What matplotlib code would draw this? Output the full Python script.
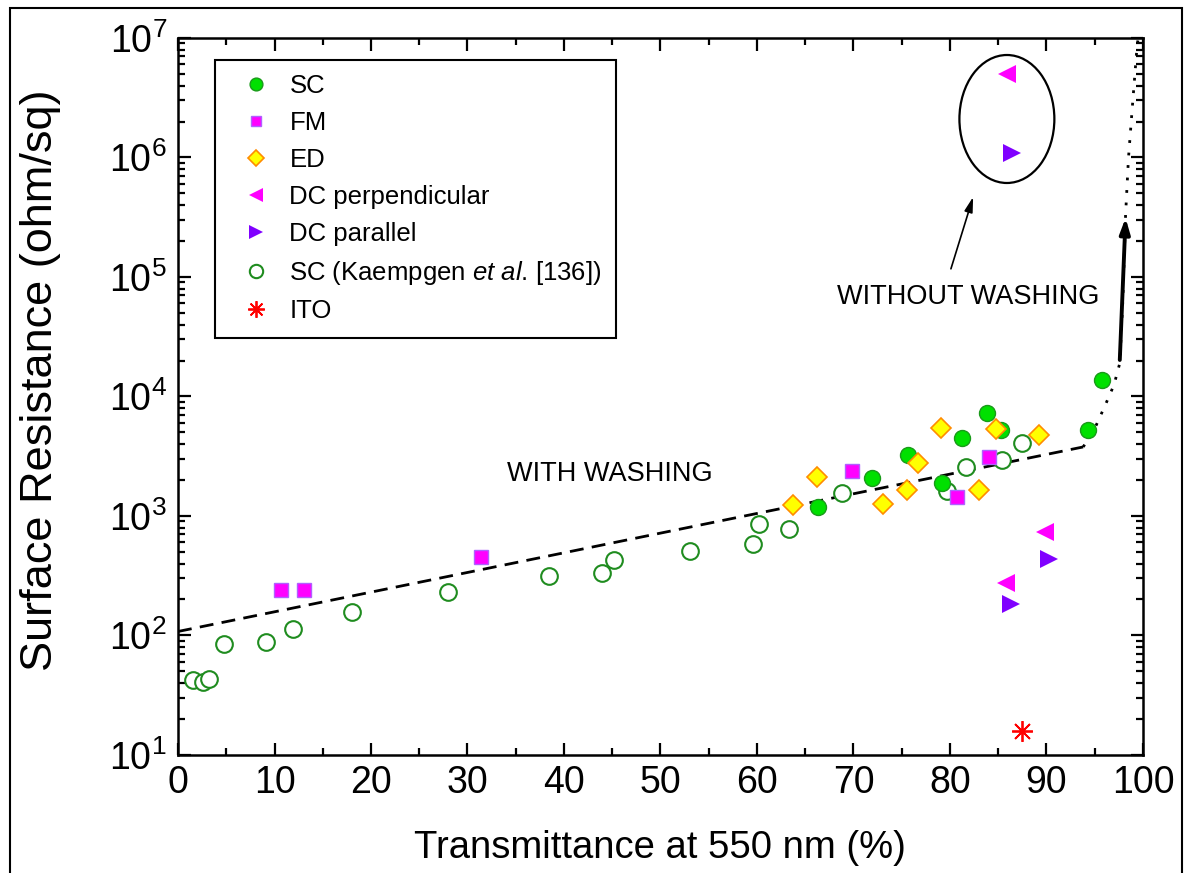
import matplotlib
matplotlib.use("Agg")
import matplotlib.pyplot as plt
from matplotlib.patches import Ellipse, Rectangle
from matplotlib.ticker import LogLocator, MultipleLocator

plt.rcParams["font.family"] = ["Liberation Sans", "DejaVu Sans"]
plt.rcParams["mathtext.fontset"] = "custom"
plt.rcParams["mathtext.rm"] = "Liberation Sans"
plt.rcParams["mathtext.it"] = "Liberation Sans:italic"

# data (transmittance %, surface resistance ohm/sq)
sc_x = [66.3, 71.9, 75.6, 79.2, 81.2, 83.8, 85.3, 94.3, 95.8]
sc_y = [1190, 2080, 3240, 1890, 4500, 7280, 5250, 5250, 13700]

fm_x = [10.7, 13.1, 31.4, 69.8, 80.7, 84.0]
fm_y = [240, 240, 454, 2380, 1443, 3120]

ed_x = [63.7, 66.2, 73.1, 75.5, 76.7, 79.1, 83.0, 84.8, 89.2]
ed_y = [1236, 2120, 1260, 1650, 2780, 5450, 1650, 5350, 4760]

dc_perp_x = [85.9, 89.8, 85.8]
dc_perp_y = [5.0e6, 735, 275]

dc_par_x = [86.4, 90.3, 86.3]
dc_par_y = [1.09e6, 437, 184]

kaem_x = [1.55, 2.6, 3.2, 4.8, 9.1, 11.9, 18.0, 28.0, 38.4, 43.9, 45.2,
          53.1, 59.6, 60.2, 63.3, 68.8, 79.7, 81.7, 85.4, 87.5]
kaem_y = [42.4, 41, 43.3, 85, 88, 113, 157, 231, 315, 333, 428,
          509, 583, 857, 778, 1555, 1620, 2570, 2940, 4070]

ito_x = [87.5]
ito_y = [15.9]

# guide lines
wash_x = [0, 93.8]
wash_y = [108, 3780]
nowash_x = [93.8, 94.8, 96.1, 97.0, 97.6, 97.9, 98.2, 98.5, 98.9, 99.4, 99.8]
nowash_y = [3780, 4960, 8490, 12500, 19000, 6.0e4, 3.3e5, 9.9e5, 2.65e6, 8.7e6, 1.4e7]

fig = plt.figure(figsize=(11.86, 8.73), dpi=100)
ax = fig.add_axes([0.1501, 0.1352, 0.8136, 0.8213])

ax.plot(wash_x, wash_y, color="black", lw=2, ls=(0, (5, 3)), zorder=2)
ax.plot(nowash_x, nowash_y, color="black", lw=2, ls=(0, (1, 3.5)), zorder=2)

kaem_label = r"SC (Kaempgen $\mathit{et\ al}$. [136])"
ax.plot(kaem_x, kaem_y, "o", ms=12, mfc="white", mec="#1f8c1f", mew=1.5,
        ls="none", label=kaem_label, zorder=3)
ax.plot(sc_x, sc_y, "o", ms=11.5, mfc="#00e000", mec="#1a9a1a", mew=1,
        ls="none", label="SC", zorder=4)
ax.plot(fm_x, fm_y, "s", ms=9.5, mfc="#ff00ff", mec="#b060ff", mew=1,
        ls="none", label="FM", zorder=4)
ax.plot(ed_x, ed_y, "D", ms=10, mfc="#ffff00", mec="#ff8c00", mew=1.2,
        ls="none", label="ED", zorder=4)
ax.plot(dc_perp_x, dc_perp_y, "<", ms=13, color="#ff00ff", mew=0,
        ls="none", label="DC perpendicular", zorder=4)
ax.plot(dc_par_x, dc_par_y, ">", ms=13, color="#8000ff", mew=0,
        ls="none", label="DC parallel", zorder=4)
ax.plot(ito_x, ito_y, marker=(8, 2, 0), ms=15, mec="#ff0000", mew=1.3,
        ls="none", label="ITO", zorder=4)

ax.set_yscale("log")
ax.set_xlim(0, 100)
ax.set_ylim(10, 1e7)
ax.xaxis.set_major_locator(MultipleLocator(10))
ax.xaxis.set_minor_locator(MultipleLocator(5))
ax.yaxis.set_major_locator(LogLocator(base=10, numticks=10))
ax.yaxis.set_minor_locator(LogLocator(base=10, subs=range(2, 10), numticks=100))

ax.tick_params(which="both", direction="in", top=True, right=True, width=1.6)
ax.tick_params(which="major", length=9)
ax.tick_params(which="minor", length=5)
ax.tick_params(axis="x", labelsize=27, pad=7)
ax.tick_params(axis="y", labelsize=27, pad=8)
for s in ax.spines.values():
    s.set_linewidth(1.8)

ax.text(-0.143, 0.523, "Surface Resistance (ohm/sq)", transform=ax.transAxes,
        rotation=90, ha="center", va="center", fontsize=32.5)
ax.text(0.4995, -0.13, "Transmittance at 550 nm (%)", transform=ax.transAxes,
        ha="center", va="center", fontsize=27.5)

# annotations
ax.text(44.7, 2245, "WITH WASHING", ha="center", va="center", fontsize=19.5)
ax.text(81.9, 6.8e4, "WITHOUT WASHING", ha="center", va="center", fontsize=19.5)
ax.annotate("", xy=(82.4, 4.67e5), xytext=(80.1, 1.17e5),
            arrowprops=dict(arrowstyle="-|>,head_length=0.9,head_width=0.25",
                            color="black", lw=1.2, shrinkA=0, shrinkB=0))
ax.annotate("", xy=(98.2, 3.12e5), xytext=(97.6, 2.02e4),
            arrowprops=dict(arrowstyle="-|>,head_length=0.9,head_width=0.3",
                            color="black", lw=2.8, shrinkA=0, shrinkB=0))
ax.add_patch(Ellipse((0.859, 0.887), 0.0984, 0.1785, transform=ax.transAxes,
                     fill=False, ec="black", lw=1.6, zorder=5))

handles, labels = ax.get_legend_handles_labels()
order = ["SC", "FM", "ED", "DC perpendicular", "DC parallel", kaem_label, "ITO"]
hmap = dict(zip(labels, handles))
leg = ax.legend([hmap[k] for k in order], order, loc="upper left",
                bbox_to_anchor=(0.0383, 0.969), borderaxespad=0, fontsize=18.5,
                frameon=True, fancybox=False, edgecolor="black", framealpha=1,
                markerscale=0.8, handlelength=2.1, handletextpad=0.25,
                labelspacing=0.5, borderpad=0.55)
leg.get_frame().set_linewidth(1.5)

# outer frame of the figure
fig.add_artist(Rectangle((10 / 1186, -0.05), 1172 / 1186, 1 - 8 / 873 + 0.05,
                         transform=fig.transFigure, fill=False, ec="black",
                         lw=1.5))

fig.savefig("out.png", dpi=100)
